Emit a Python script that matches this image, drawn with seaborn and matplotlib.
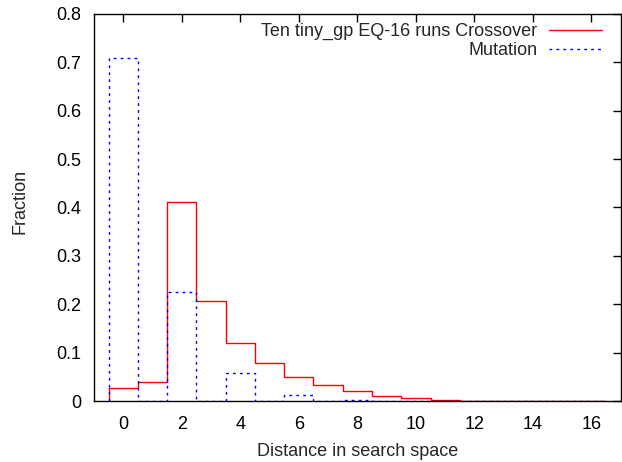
import matplotlib
matplotlib.use("Agg")
import matplotlib.pyplot as plt
import seaborn as sns

# distance bins (integer distances in search space)
distance = list(range(0, 17))
crossover = [0.027, 0.040, 0.412, 0.207, 0.120, 0.078, 0.050, 0.033, 0.020,
             0.011, 0.0056, 0.002, 0.001, 0.0005, 0.0003, 0.0002, 0.0001]
mutation = [0.708, 0.0, 0.226, 0.0, 0.057, 0.0, 0.012, 0.0, 0.002,
            0.0, 0.0, 0.0, 0.0, 0.0, 0.0, 0.0, 0.0]
x_ticks = list(range(0, 17, 2))
y_ticks = [0, 0.1, 0.2, 0.3, 0.4, 0.5, 0.6, 0.7, 0.8]
y_tick_labels = ["0", "0.1", "0.2", "0.3", "0.4", "0.5", "0.6", "0.7", "0.8"]


def histeps(centers, values):
    """gnuplot-like histogram outline, closed down to zero at both ends"""
    edges = [c - 0.5 for c in centers] + [centers[-1] + 0.5]
    xs, ys = [edges[0]], [0.0]
    for i, v in enumerate(values):
        xs += [edges[i], edges[i + 1]]
        ys += [v, v]
    xs.append(edges[-1])
    ys.append(0.0)
    return xs, ys


sns.set_theme(style="white")
plt.rcParams['font.family'] = ['Liberation Sans', 'DejaVu Sans']
FS = 13

fig, ax = plt.subplots(figsize=(6.22, 4.62), dpi=100)
fig.subplots_adjust(left=0.151, right=0.998, bottom=0.132, top=0.970)

cx, cy = histeps(distance, crossover)
mx, my = histeps(distance, mutation)
sns.lineplot(x=cx, y=cy, sort=False, estimator=None, color="#ff0000",
             linewidth=1.0, ax=ax, label="Ten tiny_gp EQ-16 runs Crossover")
sns.lineplot(x=mx, y=my, sort=False, estimator=None, color="#0000ff",
             linewidth=1.0, linestyle=(0, (2, 3)), ax=ax, label="Mutation")

ax.set_xlim(-1, 17)
ax.set_ylim(0, 0.8)
ax.set_xticks(x_ticks)
ax.set_yticks(y_ticks)
ax.set_yticklabels(y_tick_labels)
ax.set_xlabel("Distance in search space", fontsize=FS, labelpad=7)
ax.set_ylabel("Fraction", fontsize=FS)
ax.yaxis.set_label_coords(-0.125, 0.515)
ax.tick_params(axis="both", which="both", direction="in", length=6, width=1,
               top=True, right=True, labelsize=FS, colors="black")
ax.tick_params(axis="x", pad=11)
ax.tick_params(axis="y", pad=9)
for s in ax.spines.values():
    s.set_color("black")
    s.set_linewidth(1.0)

ax.legend(loc="upper right", frameon=False, fontsize=FS, markerfirst=False,
          handlelength=2.9, handletextpad=0.66, borderaxespad=0, borderpad=0,
          labelspacing=0.1, bbox_to_anchor=(0.964, 0.976))

fig.savefig("out.png", dpi=100)
